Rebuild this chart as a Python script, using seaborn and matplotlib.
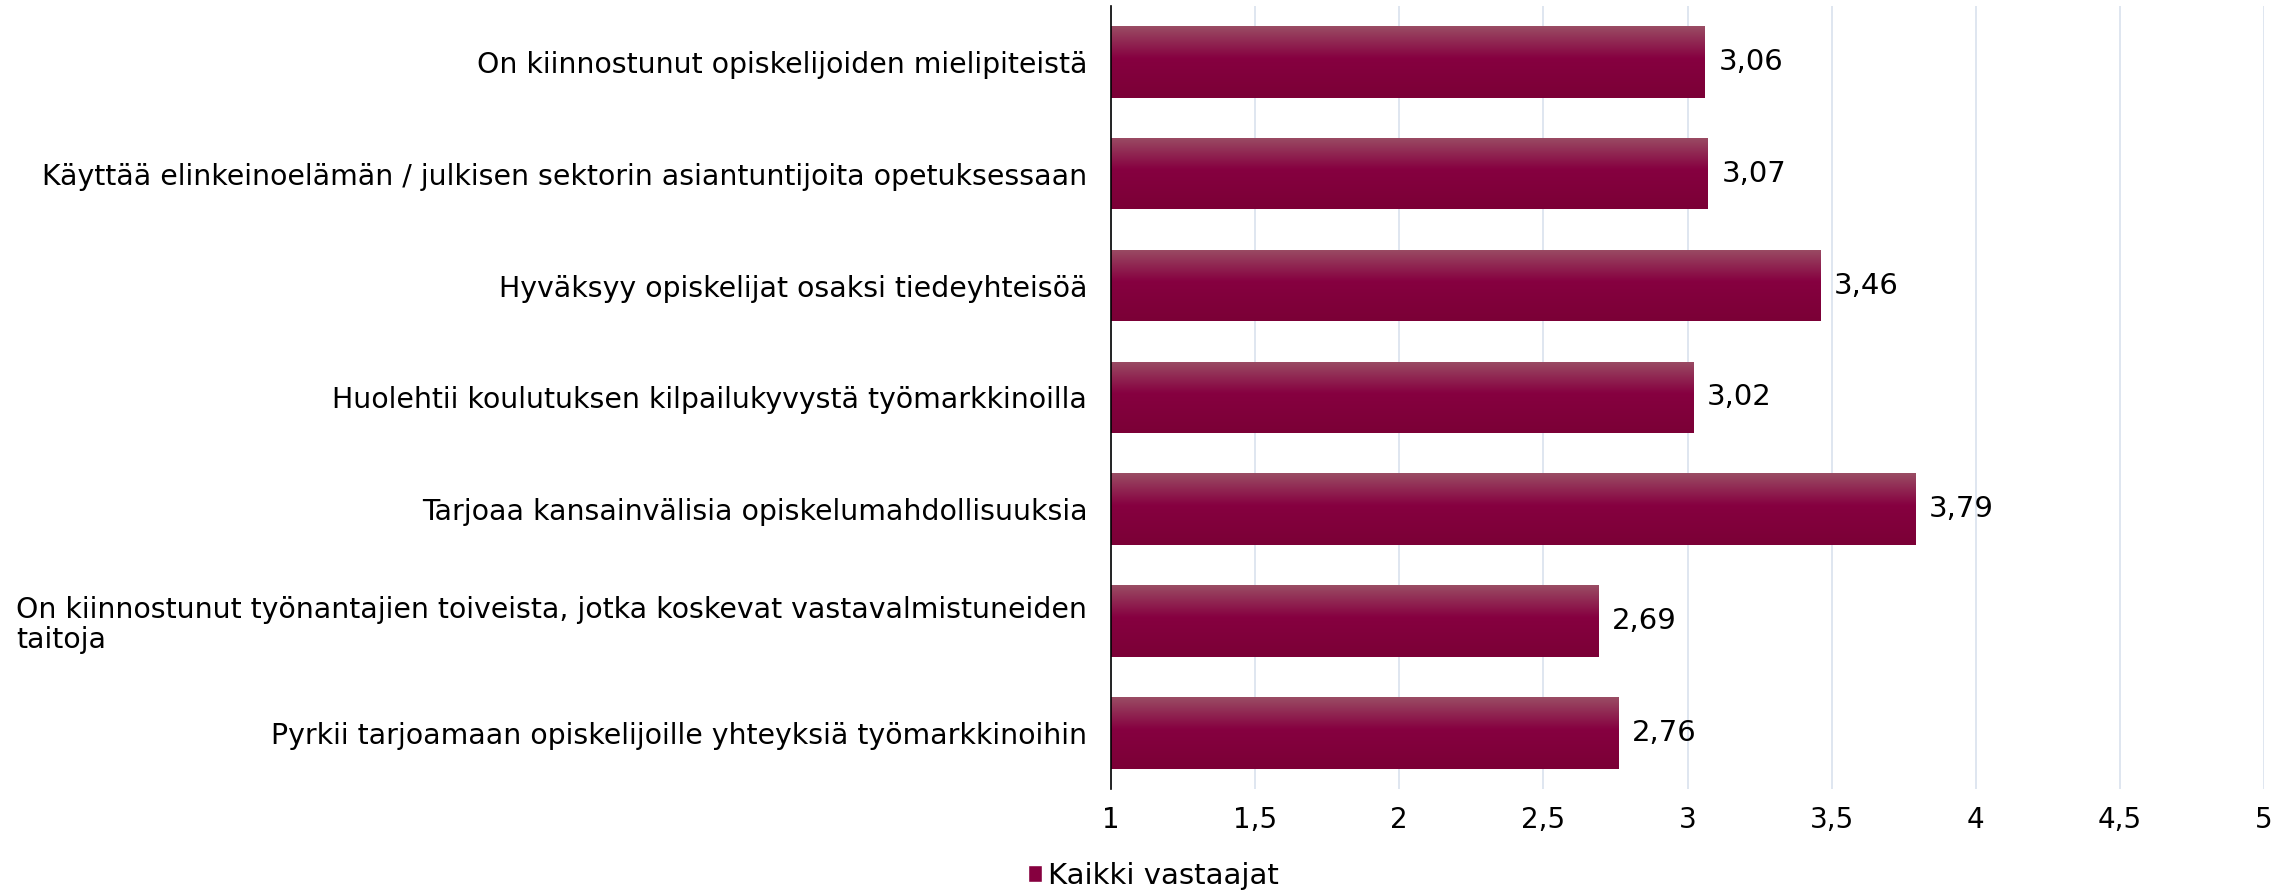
import matplotlib.pyplot as plt
import numpy as np
import pandas as pd
import seaborn as sns
from matplotlib.colors import LinearSegmentedColormap
from matplotlib.patches import Patch

statements = [
    "On kiinnostunut opiskelijoiden mielipiteistä",
    "Käyttää elinkeinoelämän / julkisen sektorin asiantuntijoita opetuksessaan",
    "Hyväksyy opiskelijat osaksi tiedeyhteisöä",
    "Huolehtii koulutuksen kilpailukyvystä työmarkkinoilla",
    "Tarjoaa kansainvälisia opiskelumahdollisuuksia",
    "On kiinnostunut työnantajien toiveista, jotka koskevat vastavalmistuneiden\ntaitoja",
    "Pyrkii tarjoamaan opiskelijoille yhteyksiä työmarkkinoihin",
]
scores = [3.06, 3.07, 3.46, 3.02, 3.79, 2.69, 2.76]
xticks = [1, 1.5, 2, 2.5, 3, 3.5, 4, 4.5, 5]
series_name = "Kaikki vastaajat"

sns.set_style("white")
plt.rcParams['font.family'] = ['DejaVu Sans']
plt.rcParams['text.color'] = 'black'
plt.rcParams['xtick.color'] = 'black'
plt.rcParams['ytick.color'] = 'black'

df = pd.DataFrame({"statement": statements, "score": scores})

fig = plt.figure(figsize=(22.93, 8.91), dpi=100)
ax = fig.add_axes([0.4845, 0.1145, 0.5029, 0.879])

sns.barplot(data=df, x="score", y="statement", color="#86003f", width=0.64,
            saturation=1, ax=ax)

ax.set_xlim(1, 5)
ax.set_xticks(xticks)
ax.set_xticklabels([f"{t:g}".replace(".", ",") for t in xticks], fontsize=20)
ax.tick_params(axis="y", labelsize=20.4, pad=17, length=0, labelcolor="black")
ax.tick_params(axis="x", pad=12, length=0, labelcolor="black")
for lab in ax.get_yticklabels():
    lab.set_multialignment("left")
    lab.set_linespacing(1.1)
ax.set_xlabel("")
ax.set_ylabel("")

ax.grid(axis="x", color="#d9e2ee", linewidth=1.2)
ax.set_axisbelow(True)
for s in ["top", "right", "bottom"]:
    ax.spines[s].set_visible(False)
ax.spines["left"].set_color("black")
ax.spines["left"].set_linewidth(1.2)
ax.spines["left"].set_zorder(5)

# gradient fill for the bars
cmap = LinearSegmentedColormap.from_list(
    "bar", [(0, "#9a4d64"), (0.45, "#860040"), (1, "#7b0036")])
grad = np.linspace(0, 1, 256).reshape(-1, 1)
xl, yl = ax.get_xlim(), ax.get_ylim()
for p in ax.patches:
    x0, y0 = max(p.get_x(), xl[0]), p.get_y()
    x1, h = p.get_x() + p.get_width(), p.get_height()
    im = ax.imshow(grad, cmap=cmap, aspect="auto", origin="upper",
                   extent=(x0, x1, y0 + h, y0), zorder=2)
    im.set_clip_path(p)
    p.set_facecolor("none")
    p.set_edgecolor("none")
ax.set_xlim(xl)
ax.set_ylim(yl)

ax.bar_label(ax.containers[0], labels=[f"{v:.2f}".replace(".", ",") for v in scores],
             padding=10, fontsize=21)

fig.legend(handles=[Patch(facecolor="#86003f", label=series_name)],
           loc="center", bbox_to_anchor=(0.503, 0.017), frameon=False,
           fontsize=21, handlelength=0.5, handleheight=0.5, handletextpad=0.2,
           borderaxespad=0, borderpad=0)

fig.savefig("out.png", dpi=100)
